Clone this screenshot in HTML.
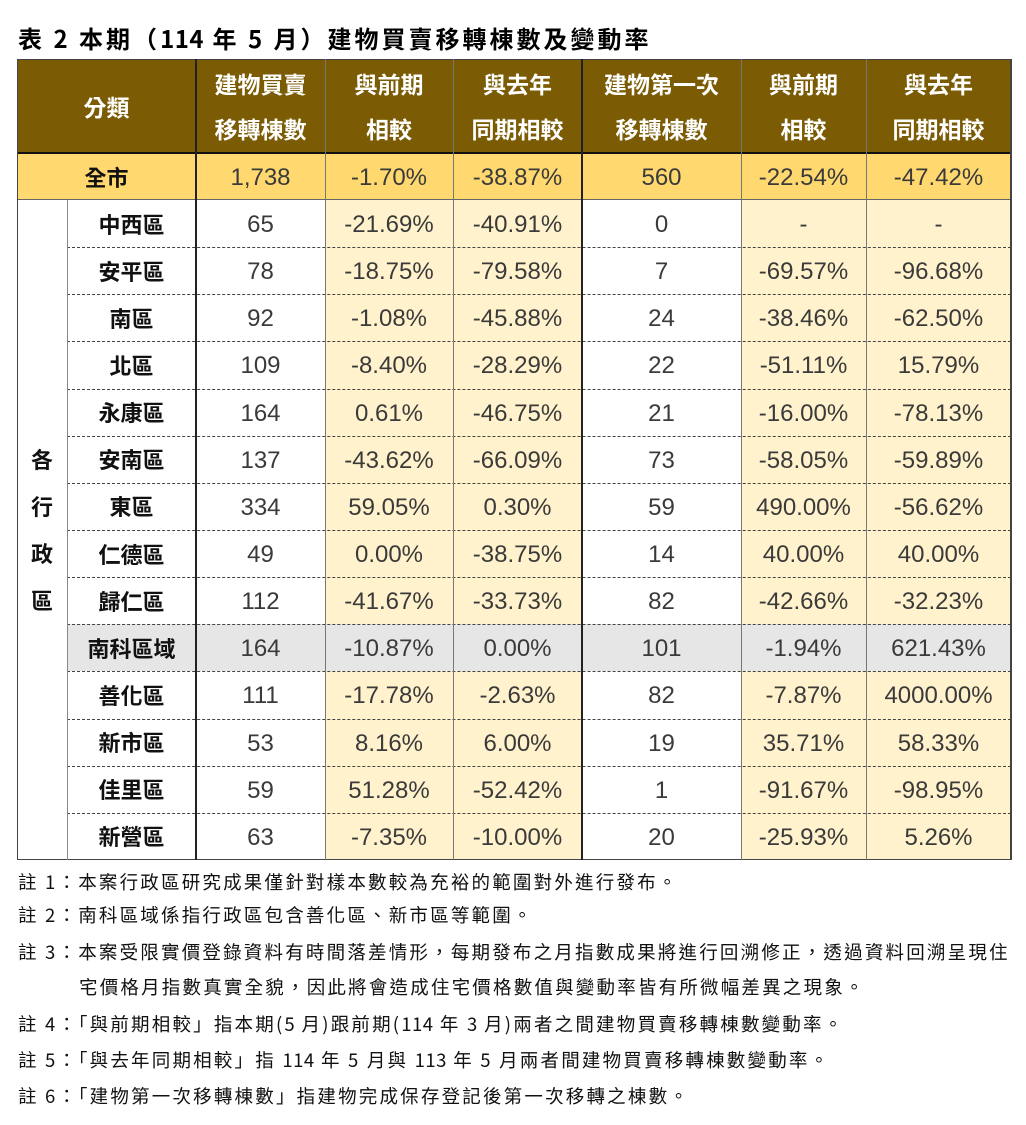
<!DOCTYPE html>
<html><head><meta charset="utf-8"><style>
body{margin:0;width:1026px;height:1125px;background:#fff;position:relative;font-family:"Liberation Sans","Noto Sans CJK TC",sans-serif;overflow:hidden}
.c{position:absolute;box-sizing:border-box;display:flex;align-items:center;justify-content:center;text-align:center}
.h{color:#fff;font-weight:bold;font-size:23px;line-height:45px;flex-direction:column;font-family:"Noto Sans CJK TC",sans-serif}
.n{font-size:24px;color:#3a3a3a;font-family:"Liberation Sans","Noto Sans CJK TC",sans-serif;padding-top:3px}
.nm{font-size:22px;font-weight:bold;color:#111;font-family:"Noto Sans CJK TC",sans-serif}
.note{position:absolute;left:18px;font-size:18.5px;letter-spacing:2.2px;color:#111;font-family:"Noto Sans CJK TC",sans-serif;white-space:nowrap}
.d{letter-spacing:0.5px}
.hl{position:absolute;height:0;border-top:1px dashed #444}
</style></head><body>
<div class="note" style="top:20px;font-size:24px;letter-spacing:3px;font-weight:bold;color:#000">表 2 本期（<span class="d">114</span> 年 5 月）建物買賣移轉棟數及變動率</div>
<div id="t"></div>
<div class="note" style="top:869px">註 1：本案行政區研究成果僅針對樣本數較為充裕的範圍對外進行發布。</div>
<div class="note" style="top:902px">註 2：南科區域係指行政區包含善化區、新市區等範圍。</div>
<div class="note" style="top:939px">註 3：本案受限實價登錄資料有時間落差情形，每期發布之月指數成果將進行回溯修正，透過資料回溯呈現住</div>
<div class="note" style="top:974px;left:79px">宅價格月指數真實全貌，因此將會造成住宅價格數值與變動率皆有所微幅差異之現象。</div>
<div class="note" style="top:1011px">註 4：「與前期相較」指本期(<span class="d">5</span> 月)跟前期(<span class="d">114</span> 年 <span class="d">3</span> 月)兩者之間建物買賣移轉棟數變動率。</div>
<div class="note" style="top:1047px">註 5：「與去年同期相較」指 <span class="d">114</span> 年 5 月與 <span class="d">113</span> 年 5 月兩者間建物買賣移轉棟數變動率。</div>
<div class="note" style="top:1083px">註 6：「建物第一次移轉棟數」指建物完成保存登記後第一次移轉之棟數。</div>
<script>
const districts=["中西區","安平區","南區","北區","永康區","安南區","東區","仁德區","歸仁區","南科區域","善化區","新市區","佳里區","新營區"];
const sales=["65","78","92","109","164","137","334","49","112","164","111","53","59","63"];
const salesPrev=["-21.69%","-18.75%","-1.08%","-8.40%","0.61%","-43.62%","59.05%","0.00%","-41.67%","-10.87%","-17.78%","8.16%","51.28%","-7.35%"];
const salesYoY=["-40.91%","-79.58%","-45.88%","-28.29%","-46.75%","-66.09%","0.30%","-38.75%","-33.73%","0.00%","-2.63%","6.00%","-52.42%","-10.00%"];
const first=["0","7","24","22","21","73","59","14","82","101","82","19","1","20"];
const firstPrev=["-","-69.57%","-38.46%","-51.11%","-16.00%","-58.05%","490.00%","40.00%","-42.66%","-1.94%","-7.87%","35.71%","-91.67%","-25.93%"];
const firstYoY=["-","-96.68%","-62.50%","15.79%","-78.13%","-59.89%","-56.62%","40.00%","-32.23%","621.43%","4000.00%","58.33%","-98.95%","5.26%"];
const total=["1,738","-1.70%","-38.87%","560","-22.54%","-47.42%"];
const headers=[["建物買賣","移轉棟數"],["與前期","相較"],["與去年","同期相較"],["建物第一次","移轉棟數"],["與前期","相較"],["與去年","同期相較"]];
const X=[17,67,196,325,453,582,741,866,1011];
const T=document.getElementById('t');
function cell(x,y,w,h,bg,cls,html,name){const d=document.createElement('div');d.className='c '+cls;d.style.cssText=`left:${x}px;top:${y}px;width:${w}px;height:${h}px;background:${bg}`;d.innerHTML=html;


T.appendChild(d);return d;}
const HB='#7b5b04',Y='#ffd96f',LY='#fff2cc',G='#e6e6e6';
cell(X[0],59,X[2]-X[0],94,HB,'h','分類','header-category');
headers.forEach((h,i)=>cell(X[i+2],59,X[i+3]-X[i+2],94,HB,'h',`<div>${h[0]}</div><div>${h[1]}</div>`,'header-col-'+(i+1)));
cell(X[0],153,X[2]-X[0],47,Y,'nm','全市','total-label');
total.forEach((v,i)=>cell(X[i+2],153,X[i+3]-X[i+2],47,Y,'n',v,'total-value-'+(i+1)));
cell(X[0],200,X[1]-X[0],660,'#fff','nm','<div style="line-height:47px">各<br>行<br>政<br>區</div>','district-group-label');
const RH=660/14;
districts.forEach((d,r)=>{const y=200+r*RH;const gray=d==='南科區域';
 const vals=[sales[r],salesPrev[r],salesYoY[r],first[r],firstPrev[r],firstYoY[r]];
 cell(X[1],y,X[2]-X[1],RH,gray?G:'#fff','nm',d,'district-name-'+r);
 vals.forEach((v,i)=>{const bg=gray?G:(i===0||i===3?'#fff':LY);cell(X[i+2],y,X[i+3]-X[i+2],RH,bg,'n',v,'district-value-'+r+'-'+i);});
 if(r>0){const l=document.createElement('div');l.className='hl';l.style.cssText=`left:${X[1]}px;top:${Math.round(y)}px;width:${X[8]-X[1]}px`;
 
 
 T.appendChild(l);}
});
function line(x,y,w,h,c,name){const l=document.createElement('div');l.style.cssText=`position:absolute;left:${x}px;top:${y}px;width:${w}px;height:${h}px;background:${c}`;


T.appendChild(l);}
line(X[0],152,X[8]-X[0],2,'#111','header-bottom-border');
line(X[0],199,X[8]-X[0],1,'#666','total-bottom-border');
line(X[0],59,X[8]-X[0],1,'#444','table-top-border');
line(X[0],859,X[8]-X[0],1,'#444','table-bottom-border');
line(X[0],59,1,801,'#444','table-left-border');
line(X[8]-1,59,2,801,'#444','table-right-border');
line(X[1],200,1,660,'#888','group-divider');
[2,5].forEach(i=>line(X[i]-1,59,2,801,'#222','column-divider-major'));
[3,4,6,7].forEach(i=>line(X[i],59,1,801,'#777','column-divider'));
</script>
</body></html>
